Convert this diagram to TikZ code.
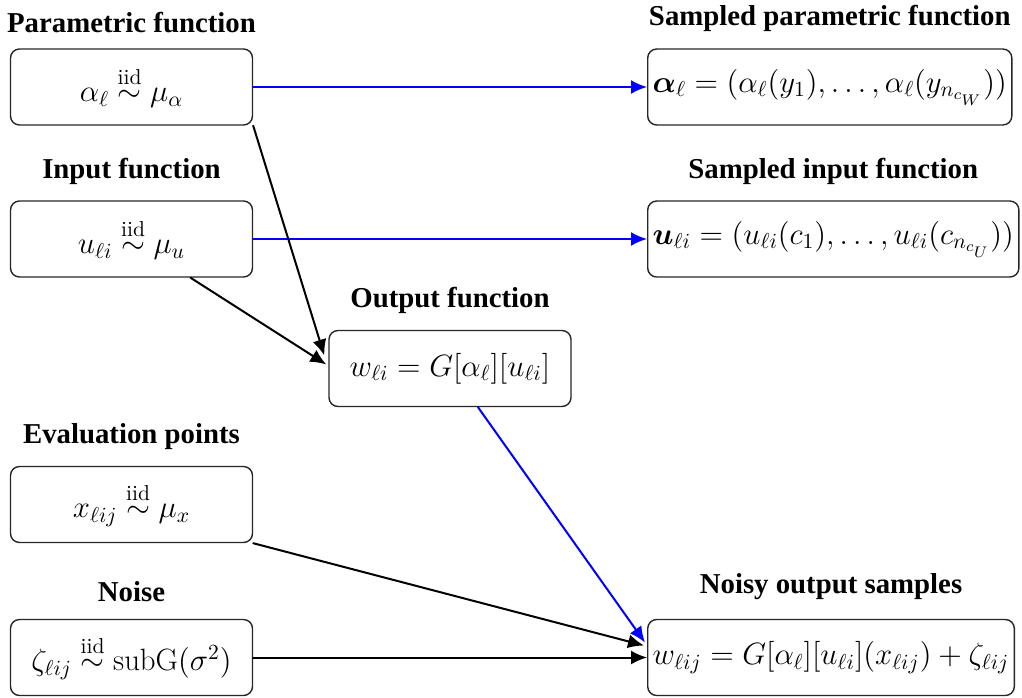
\RequirePackage{fix-cm}
\documentclass[tikz,border=0pt]{standalone}
\usepackage{amsmath,amssymb}
\usepackage{fontspec}
\newfontfamily\headfont{Liberation Serif}[BoldFont={Liberation Serif Bold}]
\usetikzlibrary{arrows.meta,calc}

\begin{document}
\begin{tikzpicture}[x=0.5pt,y=-0.5pt,>={Latex[length=8pt,width=7pt]},line cap=round,line join=round]
\useasboundingbox (0,0) rectangle (1022,697);
\tikzset{card/.style={draw=black!85,line width=0.7pt,rounded corners=4.5pt,minimum height=38pt,inner xsep=2.5pt,font=\fontsize{15.4}{18}\selectfont},leftcard/.style={card,minimum width=121pt},sidecard/.style={card,anchor=west},head/.style={anchor=base,inner sep=0pt,font=\headfont\bfseries\fontsize{14.4}{17}\selectfont},link/.style={->,draw=black,line width=1pt},bluelink/.style={->,draw=blue,line width=1pt}}
\node[leftcard] (param) at (131.5,87) {$\alpha_\ell \overset{\mathrm{iid}}{\sim} \mu_\alpha$};
\node[head] (paramhead) at (131.5,32) {Parametric function};
\node[leftcard] (input) at (131.5,239) {$u_{\ell i} \overset{\mathrm{iid}}{\sim} \mu_u$};
\node[head] (inputhead) at (131.5,178) {Input function};
\node[leftcard] (output) at (450,368.5) {$w_{\ell i} = G[\alpha_\ell][u_{\ell i}]$};
\node[head] (outputhead) at (450,307) {Output function};
\node[leftcard] (evalpts) at (131.5,504.5) {$x_{\ell ij} \overset{\mathrm{iid}}{\sim} \mu_x$};
\node[head] (evalhead) at (131.5,443) {Evaluation points};
\node[leftcard] (noise) at (131.5,657.5) {$\zeta_{\ell ij} \overset{\mathrm{iid}}{\sim} \mathrm{subG}(\sigma^2)$};
\node[head] (noisehead) at (131.5,601) {Noise};
\node[sidecard] (sparam) at (647,87) {$\boldsymbol{\alpha}_\ell = (\alpha_\ell(y_1),\dots,\alpha_\ell(y_{n_{c_W}}))$};
\node[head] (sparamhead) at (sparam.center |- 0,25) {Sampled parametric function};
\node[sidecard] (sinput) at (647,239) {$\boldsymbol{u}_{\ell i} = (u_{\ell i}(c_1),\dots,u_{\ell i}(c_{n_{c_U}}))$};
\node[head] (sinputhead) at (sinput.center |- 0,178) {Sampled input function};
\node[sidecard] (noisy) at (647,657.5) {$w_{\ell ij} = G[\alpha_\ell][u_{\ell i}](x_{\ell ij}) + \zeta_{\ell ij}$};
\node[head] (noisyhead) at (noisy.center |- 0,593) {Noisy output samples};
\draw[bluelink] (param.east) -- (sparam.west);
\draw[bluelink] (input.east) -- (sinput.west);
\draw[link] (param.south east) -- ([xshift=-2pt,yshift=6.5pt]output.west);
\draw[link] ([xshift=29.5pt]input.south) -- ([xshift=-1pt,yshift=2pt]output.west);
\draw[bluelink] ([xshift=14pt]output.south) -- ([xshift=-1pt,yshift=7.5pt]noisy.west);
\draw[link] (evalpts.south east) -- ([xshift=-1.5pt,yshift=6pt]noisy.west);
\draw[link] (noise.east) -- (noisy.west);
\end{tikzpicture}
\end{document}
